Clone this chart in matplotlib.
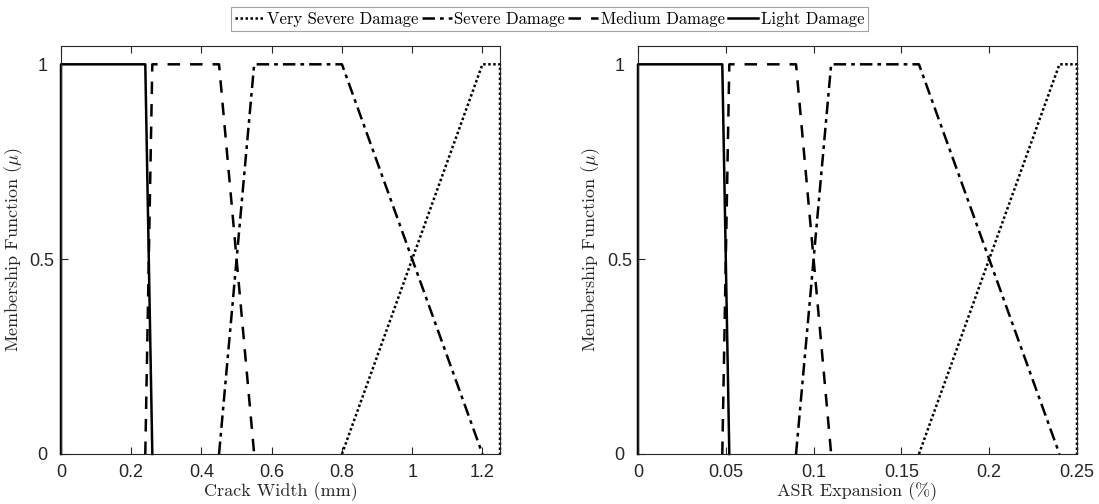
import matplotlib.pyplot as plt
from matplotlib.lines import Line2D

plt.rcParams['mathtext.fontset'] = 'cm'

# membership function breakpoints: crack width (mm)
cw_light_x = [0, 0, 0.24, 0.26]
cw_light_y = [0, 1, 1, 0]
cw_medium_x = [0.24, 0.26, 0.45, 0.55]
cw_medium_y = [0, 1, 1, 0]
cw_severe_x = [0.45, 0.55, 0.8, 1.2]
cw_severe_y = [0, 1, 1, 0]
cw_vsevere_x = [0.8, 1.2, 1.25, 1.25]
cw_vsevere_y = [0, 1, 1, 0]
cw_ticks = [0, 0.2, 0.4, 0.6, 0.8, 1, 1.2]
cw_ticklabels = ['0', '0.2', '0.4', '0.6', '0.8', '1', '1.2']

# membership function breakpoints: ASR expansion (%)
asr_light_x = [0, 0, 0.048, 0.052]
asr_light_y = [0, 1, 1, 0]
asr_medium_x = [0.048, 0.052, 0.09, 0.11]
asr_medium_y = [0, 1, 1, 0]
asr_severe_x = [0.09, 0.11, 0.16, 0.24]
asr_severe_y = [0, 1, 1, 0]
asr_vsevere_x = [0.16, 0.24, 0.25, 0.25]
asr_vsevere_y = [0, 1, 1, 0]
asr_ticks = [0, 0.05, 0.1, 0.15, 0.2, 0.25]
asr_ticklabels = ['0', '0.05', '0.1', '0.15', '0.2', '0.25']

y_ticks = [0, 0.5, 1]
y_ticklabels = ['0', '0.5', '1']

labels = ['Very Severe Damage', 'Severe Damage', 'Medium Damage', 'Light Damage']
styles = [(0, (1, 1)), (0, (5, 2, 1.5, 2)), (0, (5, 4)), '-']

serif = 'cmr10'
tick_col = '#262626'
lw = 1.8

fig = plt.figure(figsize=(10.99, 5.04), dpi=100)
ax1 = fig.add_axes([61 / 1099, 1 - 454 / 504, 439 / 1099, 408 / 504])
ax2 = fig.add_axes([638 / 1099, 1 - 454 / 504, 439 / 1099, 408 / 504])


def draw(ax, series, xmax, xticks, xticklabels, xlabel):
    for (x, y), ls in zip(series, styles):
        ax.plot(x, y, color='black', linestyle=ls, linewidth=lw, clip_on=False)
    ax.set_xlim(0, xmax)
    ax.set_ylim(0, 1.047)
    ax.set_xticks(xticks)
    ax.set_xticklabels(xticklabels, fontfamily='Liberation Sans', fontsize=13)
    ax.set_yticks(y_ticks)
    ax.set_yticklabels(y_ticklabels, fontfamily='Liberation Sans', fontsize=13,
                       ha='center')
    ax.tick_params(axis='x', direction='in', top=True, length=5, width=0.8,
                   colors=tick_col, pad=7)
    ax.tick_params(axis='y', direction='in', right=False, length=5, width=0.8,
                   colors=tick_col, pad=13.5)
    for s in ax.spines.values():
        s.set_color(tick_col)
        s.set_linewidth(0.8)
    ax.set_xlabel(xlabel, fontfamily=serif, fontsize=13, color=tick_col, labelpad=1)
    ax.set_ylabel(r'Membership Function ($\mu$)', fontfamily=serif, fontsize=13,
                  color=tick_col)
    ax.yaxis.set_label_coords(-0.083, 0.5)


draw(ax1,
     [(cw_vsevere_x, cw_vsevere_y), (cw_severe_x, cw_severe_y),
      (cw_medium_x, cw_medium_y), (cw_light_x, cw_light_y)],
     1.25, cw_ticks, cw_ticklabels, 'Crack Width (mm)')
draw(ax2,
     [(asr_vsevere_x, asr_vsevere_y), (asr_severe_x, asr_severe_y),
      (asr_medium_x, asr_medium_y), (asr_light_x, asr_light_y)],
     0.25, asr_ticks, asr_ticklabels, 'ASR Expansion (%)')

handles = [Line2D([], [], color='black', linestyle=ls, linewidth=lw) for ls in styles]
leg = fig.legend(handles, labels, loc='center', bbox_to_anchor=(0.5, 1 - 19 / 504),
                 ncol=4, frameon=True, fancybox=False, edgecolor='#8c8c8c',
                 prop={'family': serif, 'size': 12}, handlelength=1.8,
                 handletextpad=0.15, columnspacing=0.2, borderpad=0.25,
                 borderaxespad=0)
leg.get_frame().set_linewidth(0.8)

fig.savefig('out.png', dpi=100)
